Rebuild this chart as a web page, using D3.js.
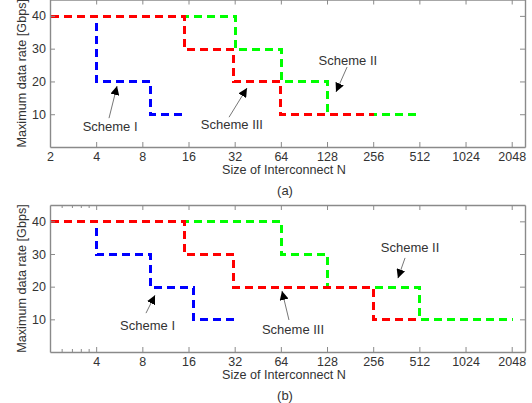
<!DOCTYPE html>
<html>
<head>
<meta charset="utf-8">
<script src="https://cdn.jsdelivr.net/npm/d3@7"></script>
<style>
  body { margin: 0; background: #fff; }
  svg { font-family: "Liberation Sans", Arial, sans-serif; }
</style>
</head>
<body>
<div id="container"></div>
<script>
// Width and height
let w = 532;
let h = 403;

// Tick values
let rateTicks = [10, 20, 30, 40];
let sizeTicksA = [2, 4, 8, 16, 32, 64, 128, 256, 512, 1024, 2048];
let sizeTicksB = [4, 8, 16, 32, 64, 128, 256, 512, 1024, 2048];
let minorTicksB = [2.4, 2.8, 3.2, 3.6];
let schemeNames = ["Scheme I", "Scheme II", "Scheme III"];

// Panel (a): stairs break points, N and max rate [Gbps]
let schemeIa_N = [2, 4, 9, 15];
let schemeIa_rate = [40, 20, 10, 10];
let schemeIIa_N = [2, 32, 64, 128, 512];
let schemeIIa_rate = [40, 30, 20, 10, 10];
let schemeIIIa_N = [2, 15, 31, 63, 255];
let schemeIIIa_rate = [40, 30, 20, 10, 10];

// Panel (b)
let schemeIb_N = [2, 4, 9, 17, 31];
let schemeIb_rate = [40, 30, 20, 10, 10];
let schemeIIb_N = [2, 64, 128, 512, 2048];
let schemeIIb_rate = [40, 30, 20, 10, 10];
let schemeIIIb_N = [2, 15, 31, 255, 511];
let schemeIIIb_rate = [40, 30, 20, 10, 10];

let colors = ["#0000ff", "#00ff00", "#ff0000"];

let svg = d3.select("#container")
  .append("svg")
  .attr("width", w)
  .attr("height", h);

svg.append("defs").append("marker")
  .attr("id", "head")
  .attr("viewBox", "0 0 10 10")
  .attr("refX", 10).attr("refY", 5)
  .attr("markerWidth", 9).attr("markerHeight", 9)
  .attr("markerUnits", "userSpaceOnUse")
  .attr("orient", "auto")
  .append("path")
  .attr("d", "M0,0 L10,5 L0,10 z")
  .attr("fill", "#000");

// shared log2 x scale
let x = d3.scaleLog().base(2).domain([2, 2500]).range([50, 525]);

function zip(ns, rs) {
  return ns.map(function(n, i) { return [n, rs[i]]; });
}

function drawPanel(p) {
  let y = d3.scaleLinear().domain([0, 45]).range([p.bottom, p.top]);
  let g = svg.append("g");

  // snap to pixel centres so overlapping dashes hide each other fully
  let line = d3.line()
    .x(function(d) { return Math.round(x(d[0])) + 0.5; })
    .y(function(d) { return Math.round(y(d[1])) + 0.5; })
    .curve(d3.curveStepAfter);

  // blue, green, red (red on top)
  p.series.forEach(function(s, i) {
    g.append("path")
      .attr("d", line(s))
      .attr("fill", "none")
      .attr("stroke", colors[i])
      .attr("stroke-width", 2.4)
      .attr("stroke-dasharray", "8,5")
      .attr("shape-rendering", "crispEdges");
  });

  // axes (ticks inward)
  let fmt = d3.format("d");
  let xb = g.append("g").attr("transform", "translate(0," + p.bottom + ")")
    .call(d3.axisBottom(x).tickValues(p.xticks).tickFormat(fmt).tickSize(-5).tickSizeOuter(0).tickPadding(5.5));
  let xt = g.append("g").attr("transform", "translate(0," + p.top + ")")
    .call(d3.axisTop(x).tickValues(p.xticks).tickFormat("").tickSize(-5).tickSizeOuter(0));
  let yl = g.append("g").attr("transform", "translate(50,0)")
    .call(d3.axisLeft(y).tickValues(rateTicks).tickSize(-5).tickSizeOuter(0).tickPadding(4));
  let yr = g.append("g").attr("transform", "translate(525,0)")
    .call(d3.axisRight(y).tickValues(rateTicks).tickFormat("").tickSize(-5).tickSizeOuter(0));

  if (p.minor) {
    xb.selectAll(".minor").data(p.minor).enter().append("line")
      .attr("x1", function(d) { return x(d); }).attr("x2", function(d) { return x(d); })
      .attr("y1", 0).attr("y2", -3);
    xt.selectAll(".minor").data(p.minor).enter().append("line")
      .attr("x1", function(d) { return x(d); }).attr("x2", function(d) { return x(d); })
      .attr("y1", 0).attr("y2", 3);
  }

  [xb, xt, yl, yr].forEach(function(a) {
    a.selectAll("path.domain").attr("stroke", "#8a8a8a").attr("stroke-width", 1.4);
    a.selectAll("line").attr("stroke", "#8a8a8a").attr("stroke-width", 1);
    a.selectAll("text").attr("fill", "#333").style("font-size", "12.5px")
      .style("font-family", "'Liberation Sans', Arial, sans-serif");
  });

  // axis labels
  g.append("text")
    .attr("x", 284).attr("y", p.bottom + 27)
    .attr("text-anchor", "middle")
    .attr("fill", "#333").style("font-size", "12.6px")
    .text("Size of Interconnect N");
  g.append("text")
    .attr("transform", "translate(26," + ((p.top + p.bottom) / 2) + ") rotate(-90)")
    .attr("text-anchor", "middle")
    .attr("fill", "#333").style("font-size", "12.6px")
    .text("Maximum data rate [Gbps]");
  g.append("text")
    .attr("x", 285).attr("y", p.bottom + 48)
    .attr("text-anchor", "middle")
    .attr("fill", "#333").style("font-size", "13px")
    .text(p.caption);

  // annotations with arrows (positions in data coordinates)
  p.notes.forEach(function(a) {
    g.append("line")
      .attr("x1", x(a.from[0])).attr("y1", y(a.from[1]))
      .attr("x2", x(a.tip[0])).attr("y2", y(a.tip[1]))
      .attr("stroke", "#777").attr("stroke-width", 1)
      .attr("marker-end", "url(#head)");
    g.append("text")
      .attr("x", x(a.at[0])).attr("y", y(a.at[1]))
      .attr("dy", "0.36em")
      .attr("text-anchor", "middle")
      .attr("fill", "#333").style("font-size", "13px")
      .text(a.label);
  });
}

drawPanel({
  top: -0.5, bottom: 147, caption: "(a)", xticks: sizeTicksA,
  series: [zip(schemeIa_N, schemeIa_rate), zip(schemeIIa_N, schemeIIa_rate), zip(schemeIIIa_N, schemeIIIa_rate)],
  notes: [
    { label: schemeNames[0], at: [4.93, 6.4], from: [4.85, 8.8], tip: [5.47, 18.6] },
    { label: schemeNames[2], at: [30.7, 7.0], from: [29.4, 9.1], tip: [38.5, 18.0] },
    { label: schemeNames[1], at: [175, 26.5], from: [173, 24.4], tip: [146.5, 16.8] }
  ]
});

drawPanel({
  top: 205, bottom: 352, caption: "(b)", xticks: sizeTicksB, minor: minorTicksB,
  series: [zip(schemeIb_N, schemeIb_rate), zip(schemeIIb_N, schemeIIb_rate), zip(schemeIIIb_N, schemeIIIb_rate)],
  notes: [
    { label: schemeNames[0], at: [8.65, 8.3], from: [8.45, 11.9], tip: [9.67, 17.4] },
    { label: schemeNames[2], at: [76.8, 7.0], from: [72.3, 9.8], tip: [65.1, 18.7] },
    { label: schemeNames[1], at: [445, 32.1], from: [413, 28.8], tip: [371, 22.6] }
  ]
});
</script>
</body>
</html>
